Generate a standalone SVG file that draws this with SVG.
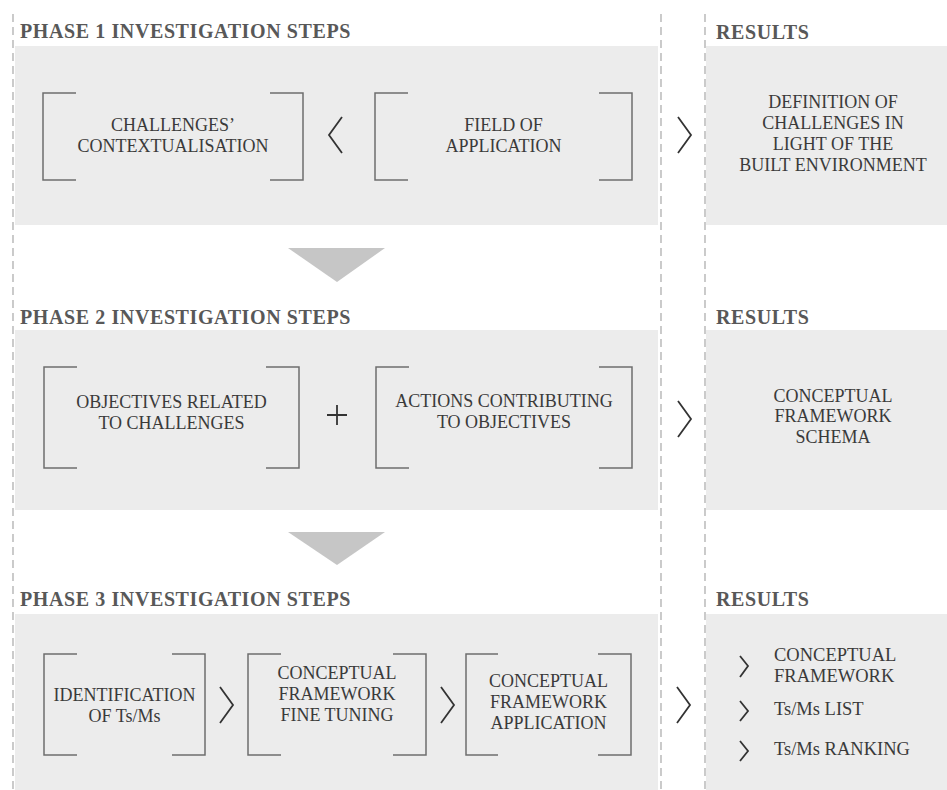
<svg xmlns="http://www.w3.org/2000/svg" width="947" height="790" viewBox="0 0 947 790">
<style>
.panel{fill:#ececec}
.dash{stroke:#a8a8a8;stroke-width:1.2;stroke-dasharray:8 5;fill:none}
.hdr{font-family:"Liberation Serif",serif;font-weight:bold;font-size:20px;letter-spacing:0.6px;fill:#585858}
.t{font-family:"Liberation Serif",serif;font-size:18px;fill:#3a3a3a;text-anchor:middle}
.tl{font-family:"Liberation Serif",serif;font-size:18.5px;fill:#3a3a3a}
.br{fill:none;stroke:#6e6e6e;stroke-width:1.5}
.ch{fill:none;stroke:#333;stroke-width:1.8;stroke-linejoin:miter}
.chs{fill:none;stroke:#333;stroke-width:1.8}
.tri{fill:#c6c6c6}
</style>
<rect width="947" height="790" fill="#ffffff"/>
<g id="panels">
<rect class="panel" x="15" y="46" width="643" height="179"/>
<rect class="panel" x="706" y="46" width="241" height="179"/>
<rect class="panel" x="15" y="330" width="643" height="180"/>
<rect class="panel" x="706" y="330" width="241" height="180"/>
<rect class="panel" x="15" y="614" width="643" height="176"/>
<rect class="panel" x="706" y="614" width="241" height="176"/>
</g>
<g id="dividers">
<line class="dash" x1="13" y1="14" x2="13" y2="790"/>
<line class="dash" x1="661" y1="14" x2="661" y2="790"/>
<line class="dash" x1="705" y1="14" x2="705" y2="790"/>
</g>
<g id="headers">
<text class="hdr" x="20" y="38">PHASE 1 INVESTIGATION STEPS</text>
<text class="hdr" x="716" y="39">RESULTS</text>
<text class="hdr" x="20" y="324">PHASE 2 INVESTIGATION STEPS</text>
<text class="hdr" x="716" y="324">RESULTS</text>
<text class="hdr" x="20" y="606">PHASE 3 INVESTIGATION STEPS</text>
<text class="hdr" x="716" y="606">RESULTS</text>
</g>
<g id="p1-challenges">
<path class="br" d="M76,93H43V180H76M270,93H303V180H270"/>
<text class="t" x="173" y="131">CHALLENGES’</text>
<text class="t" x="173" y="152">CONTEXTUALISATION</text>
</g>
<g id="p1-field">
<path class="br" d="M408,93H375V180H408M599,93H632V180H599"/>
<text class="t" x="503.5" y="131">FIELD OF</text>
<text class="t" x="503.5" y="152">APPLICATION</text>
</g>
<g id="p1-result">
<text class="t" x="833" y="108">DEFINITION OF</text>
<text class="t" x="833" y="129">CHALLENGES IN</text>
<text class="t" x="833" y="150">LIGHT OF THE</text>
<text class="t" x="833" y="171">BUILT ENVIRONMENT</text>
</g>
<g id="p2-objectives">
<path class="br" d="M77,367H44V468H77M266,367H299V468H266"/>
<text class="t" x="171.5" y="408">OBJECTIVES RELATED</text>
<text class="t" x="171.5" y="429">TO CHALLENGES</text>
</g>
<g id="p2-actions">
<path class="br" d="M409,367H376V468H409M599,367H632V468H599"/>
<text class="t" x="504" y="407">ACTIONS CONTRIBUTING</text>
<text class="t" x="504" y="428">TO OBJECTIVES</text>
</g>
<g id="p2-result">
<text class="t" x="833" y="402">CONCEPTUAL</text>
<text class="t" x="833" y="422">FRAMEWORK</text>
<text class="t" x="833" y="443">SCHEMA</text>
</g>
<g id="p3-identification">
<path class="br" d="M77,654H44V755H77M172,654H205V755H172"/>
<text class="t" x="124.5" y="701">IDENTIFICATION</text>
<text class="t" x="124.5" y="722">OF Ts/Ms</text>
</g>
<g id="p3-finetuning">
<path class="br" d="M281,654H248V755H281M393,654H426V755H393"/>
<text class="t" x="337" y="679">CONCEPTUAL</text>
<text class="t" x="337" y="700">FRAMEWORK</text>
<text class="t" x="337" y="721">FINE TUNING</text>
</g>
<g id="p3-application">
<path class="br" d="M498,654H466V755H498M598,654H631V755H598"/>
<text class="t" x="548.5" y="687">CONCEPTUAL</text>
<text class="t" x="548.5" y="708">FRAMEWORK</text>
<text class="t" x="548.5" y="729">APPLICATION</text>
</g>
<g id="p3-result">
<text class="tl" x="774" y="661">CONCEPTUAL</text>
<text class="tl" x="774" y="682">FRAMEWORK</text>
<text class="tl" x="774" y="715">Ts/Ms LIST</text>
<text class="tl" x="774" y="755">Ts/Ms RANKING</text>
</g>
<g id="connectors">
<polyline class="ch" points="342,117 329,135 342,153"/>
<polyline class="ch" points="678,117 691,135 678,153"/>
<path class="ch" d="M327,415H347M337,405V425"/>
<polyline class="ch" points="678,401 691,419 678,437"/>
<polyline class="ch" points="220,687 233,705 220,723"/>
<polyline class="ch" points="441,687 454,705 441,723"/>
<polyline class="ch" points="677,687 690,705 677,723"/>
<polyline class="chs" points="740,656 748,666 740,677"/>
<polyline class="chs" points="740,701 748,711 740,721"/>
<polyline class="chs" points="740,741 748,751 740,761"/>
<polygon class="tri" points="288,248 385,248 337,282"/>
<polygon class="tri" points="288,532 385,532 337,565"/>
</g>
</svg>
